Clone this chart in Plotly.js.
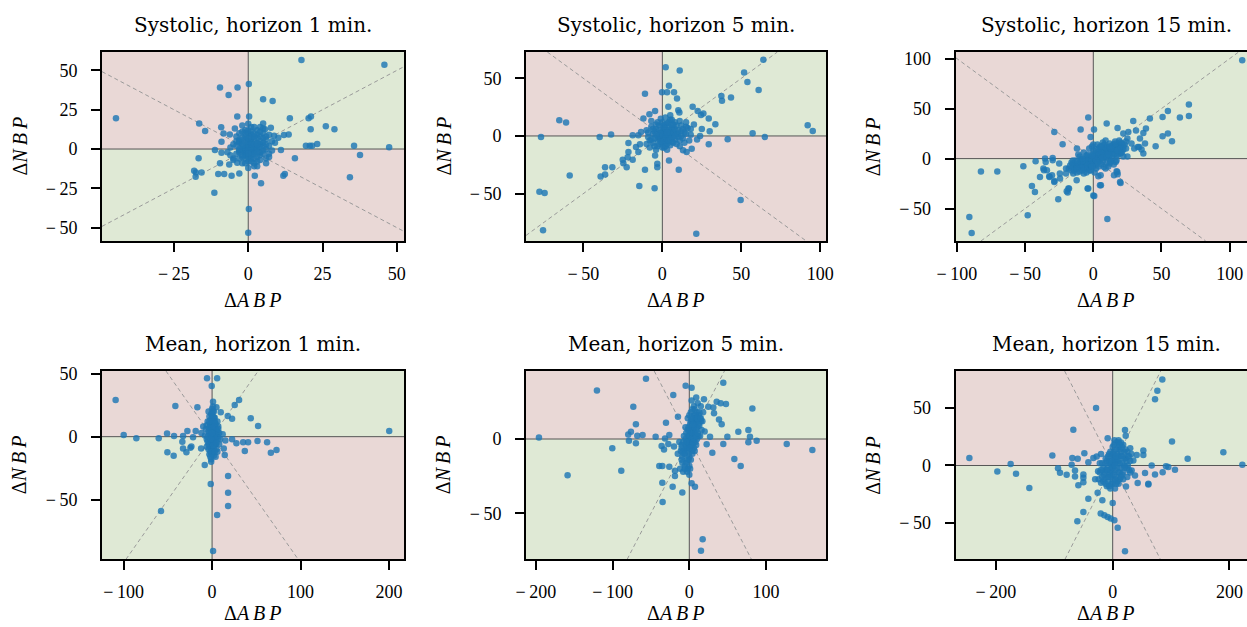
<!DOCTYPE html>
<html><head><meta charset="utf-8">
<script src="https://cdn.plot.ly/plotly-3.0.1.min.js"></script>
<style>html,body{margin:0;padding:0;overflow:hidden;background:#fff}</style>
</head><body><div id="chart" style="width:1247px;height:627px"></div>
<script>
const titles = ["Systolic, horizon 1 min.", "Systolic, horizon 5 min.", "Systolic, horizon 15 min.",
                "Mean, horizon 1 min.", "Mean, horizon 5 min.", "Mean, horizon 15 min."];
const xLabel = "Δ<i>A\u2009B\u2009P</i>";
const yLabel = "Δ<i>N\u2009B\u2009P</i>";

// [ΔABP, ΔNBP] pairs (outliers, then the dense core)
const sys1 = [[-44.5,19.5],[17.9,56.6],[45.8,53.6],[-9.5,39.2],[-3.6,39.2],[-6.6,34.4],[0.2,41.3],[5.0,31.6],[8.2,30.5],[-3.7,20.6],[0.3,20.6],[-16.5,16.3],[-14.5,11.5],[14.0,19.5],[20.3,19.5],[21.1,20.6],[21.0,12.5],[26.1,14.4],[29.0,12.5],[12.0,8.9],[13.6,9.3],[19.4,2.1],[20.7,2.1],[21.5,2.1],[23.2,3.2],[35.6,2.1],[47.4,1.1],[37.6,-3.8],[15.7,-5.9],[11.0,-0.6],[34.2,-18.0],[11.8,-17.0],[12.3,-15.9],[4.3,-21.8],[2.2,-17],[0.2,-38.2],[0,-53.2],[-11.4,-27.8],[-5.6,-17],[-3.0,-15.5],[-10.1,-15.9],[-8.1,-15.9],[-15.7,-15],[-17.6,-15],[-18.2,-13.8],[-17.7,-17.6],[-16.7,-5.9],[-9.5,-9.1],[-6.4,-9.8],[-3.7,-8.7],[-11.2,-0.6],[-9,-2.3],[-9.1,13.8],[-8.3,9.8],[-6.2,9.3],[-9,4.7],[-4.5,13.1],[7.6,13.6],[8.7,8.5],[10.1,7.2],[5.6,12.5],[5.0,16.3],
  [-4,2],[-3,5],[-2,-1],[-1,8],[0,3],[1,-4],[2,6],[3,1],[4,-2],[5,4],[6,0],[-5,-6],[-3,10],[-1,12],[1,-8],[3,9],[5,7],[7,2],[-4,-3],[-2,-9],[0,-5],[2,14],[4,11],[6,-6],[8,5],[-3,4],[-1,-2],[1,1],[3,-11],[5,13],[-2,7],[0,16],[2,-1],[4,3],[-6,1],[-5,-7],[7,-3],[9,4],[-1,0],[1,9],[0,-12],[2,2],[-3,6],[3,-5],[-2,11],[4,8],[6,-9],[-4,5],[1,3],[-1,-3],[0,10],[2,-2],[3,4],[-7,-2],[8,-1],[5,2],[-2,15],[1,-6],[4,-4],[-1,6],[0,0],[1,5],[-2,3],[2,-6],[3,7],[-1,-6],[6,3],[-3,-1],[7,9],[-6,-4],
  [-2,0],[-1,1],[0,2],[1,0],[2,1],[3,2],[-1,4],[0,5],[1,4],[2,3],[3,0],[4,1],[-2,2],[0,-1],[1,-2],[2,-3],[-1,-4],[0,-3],[3,-2],[4,5],[5,-1],[-3,-2],[-2,-4],[1,7],[2,8],[0,7],[-1,10],[3,12],[1,11],[4,-7],[2,-9],[-3,-6],[5,10],[6,6],[7,-5],[-4,8],[3,3],[-2,-5],[0,12],[1,14],[2,-11],[5,-3],[6,8],[-5,3],[-3,0],[0,-8],[2,10],[4,14],[-1,-9],[3,-8]];
const sys5 = [[2.1,59.7],[11.0,56.8],[64.0,66.1],[51.8,55.1],[53.9,46.9],[61.0,39.9],[43.5,33.5],[37.4,34.7],[37.8,30.6],[4.2,43.7],[-0.2,37.9],[3.0,37.9],[7.4,37.9],[9.3,32.6],[10.1,22.4],[10.8,20.4],[3.8,25.3],[-11.0,36.7],[19.2,25.3],[22.4,21.6],[24.5,18.1],[26,19.5],[29.4,15.2],[33.6,10.2],[-12,15.2],[-8.2,18.9],[-4.6,21.6],[-65.3,13.7],[-61,11.7],[-76.9,-0.9],[-39.7,-0.9],[-32.5,1.2],[92.1,9.3],[95.3,4.4],[57.2,2.3],[64.9,-0.9],[41.4,-2.9],[29.4,-7.3],[23.9,0],[18,1],[10.4,-29.4],[4.2,-21.3],[-4.6,-16.9],[-3.2,-24.2],[-3.2,-27.1],[-4.9,-45.5],[-11,-29.4],[-14.6,-43.4],[49.6,-55.7],[21.5,-84.8],[-75.6,-81.9],[-77.9,-48.4],[-74.6,-49.5],[-58.7,-34.4],[-39.1,-35.3],[-36.3,-33.5],[-36.3,-27.1],[-31.7,-27.1],[-24.7,-23.6],[-22.6,-27.1],[-25.1,-20.7],[-22,-18.4],[-18.8,-20.7],[-21.5,-14],[-21.5,-6.1],[-16.7,-9.6],[-15.2,-14],[-14.2,-7.3],[-18.8,0.6],[-15.2,0.6],[-13.5,3.5],[13.1,-12.5],[15.4,-14],[18.6,-11.1],[20,10],[25,6],[15,8],[30,4],[22,-3],[-8,-10],[-10,5],
  [-8,-4],[-6,2],[-4,6],[-2,-2],[0,4],[2,-6],[4,8],[6,2],[8,-3],[10,5],[12,9],[14,3],[-5,-9],[-3,12],[-1,15],[1,-10],[3,11],[5,14],[7,6],[9,-7],[11,13],[13,-2],[16,7],[-7,8],[-9,-1],[0,-3],[2,1],[4,-1],[1,6],[-1,3],[3,-4],[5,-8],[7,10],[-3,0],[-5,4],[0,9],[2,16],[6,-5],[8,12],[10,-1],[-2,-7],[-4,-12],[12,4],[15,12],[18,6],[-6,-6],[1,2],[3,5],[-1,-1],[0,0],[4,3],[6,7],[-2,5],[2,-2],[9,2],[-10,-7],[17,-4],[11,-9],[-7,13],[5,18],
  [0,1],[1,-1],[2,3],[3,1],[-1,2],[-2,0],[4,5],[5,0],[6,-2],[7,3],[-3,-3],[-4,1],[0,-6],[1,8],[2,10],[3,-7],[4,12],[-2,9],[5,3],[8,6],[9,9],[10,2],[11,-4],[-5,-2],[-6,6],[-3,-9],[0,12],[1,-4],[3,3],[6,10],[12,0],[13,6],[-1,-5],[2,-9],[4,-4],[7,-6],[-7,-3],[8,0],[0,-10],[-4,10],[14,-6],[15,2],[-9,3],[6,14],[3,-12]];
const sys15 = [[109.2,98.3],[70.1,54],[70.1,42.7],[63.5,41],[50.8,41.7],[54.7,47.7],[41.5,40],[29.3,37.7],[50.8,22.3],[54.7,25],[57.7,17.3],[45.7,12.3],[36.7,5],[35.4,9],[33.7,11.7],[38.6,30],[36.7,25.7],[-3.7,41],[0.5,29],[9.8,35],[17.8,30.7],[-9.3,29],[-28.6,26.7],[-22.5,14.3],[-2,21.7],[-82.4,-13],[-70.4,-13],[-51.3,-7.7],[-42.3,-2.7],[-34.9,-3.3],[-29.8,0.7],[-45,-27.3],[-42.8,-33.3],[-39.1,-18.3],[-36.2,-11.7],[-32.3,-17.7],[-30.3,-16.7],[-25.7,-40.7],[-18.8,-34],[-17.8,-30],[-28.6,-23.3],[-24.4,-20],[-48.1,-56.7],[-90.9,-58.3],[-89.2,-74.3],[0.7,-37.3],[-4.2,-30],[5.6,-26.7],[10.3,-60.3],[20,-24.3],[17.1,-12.7],[17.8,-15.7],[3.7,-17.7],[25,20],[28,15],[22,25],[30,10],[20,5],[-15,-5],[-20,-10],[-12,10],[12,-5],[25,2],[-25,-5],
  [25.7,26.6],[34.2,20],[32.6,11.7],[31.3,28],[37.9,15],[-35.4,0],[-34,-11.7],[-36.6,-10],[-29.8,-1.7],[-32.1,-18.3],[-28.5,-22.3],[-18.3,-30],[-19.5,-32.7],[-3.7,-30],[0,-37],[4.9,-26.7],[19.6,-23.4],[17.6,-13.3],[15.2,-16.7],[5.4,-16.7],[7.8,-8.3],[16.4,-3.3],[-14.7,-15],[-12.2,-21.7],[-24.5,-15],
  [-20,-15],[-18,-10],[-16,-12],[-14,-6],[-12,-9],[-10,-4],[-8,-7],[-6,-2],[-4,-5],[-2,0],[0,-3],[2,2],[4,-1],[6,4],[8,1],[10,6],[12,3],[14,8],[16,5],[18,10],[20,7],[22,12],[-15,-2],[-10,2],[-5,3],[0,5],[5,8],[10,12],[15,14],[20,16],[-12,-14],[-8,-12],[-3,-9],[2,-6],[7,-3],[12,-1],[17,2],[-6,-8],[-1,-4],[4,3],[9,7],[14,11],[19,13],[24,17],[-9,-1],[-3,1],[3,0],[8,4],[13,6],[-7,-4],[1,1],[6,9],[11,9],[16,12],[-2,-2],[5,5],[0,0],[3,6],[-4,-1],[9,2],[-11,-6],[7,8],[15,9],[-17,-7],[21,15],[2,9],[-5,-10],
  [-1,-1],[1,0],[2,4],[3,2],[4,1],[5,3],[6,2],[7,5],[8,6],[9,4],[10,3],[11,7],[12,8],[-3,-2],[-5,-6],[-7,-6],[-9,-8],[-10,-7],[-6,-5],[0,2],[1,3],[2,-2],[4,6],[6,7],[8,9],[10,10],[12,11],[14,13],[-8,-3],[-4,-7],[-2,-6],[0,-8],[5,-2],[10,1],[15,4],[13,10],[17,8],[18,14],[20,11],[-13,-10],[-15,-9],[-12,-3],[3,-4],[7,1],[-1,3],[-6,0],[9,11],[11,4],[16,15],[22,9],
  [-14,-12],[-12,-6],[-10,-13],[-8,0],[-6,-10],[-4,4],[-2,-12],[0,8],[2,-10],[4,10],[6,-6],[8,14],[10,-4],[12,15],[14,0],[16,17],[18,4],[20,10],[22,2],[-13,-2],[-9,-9],[-5,-14],[-1,12],[3,14],[7,16],[11,-8],[15,-6],[19,18],[23,14],[-11,4],[-7,6],[-3,10],[1,-14],[5,12],[9,18],[13,-3],[17,-2],[21,6],[-16,-4],[-7,-15],[4,-8],[9,-10],[24,10],[-3,-12],[0,14],[6,12],[12,12],[-12,-10],[18,8],[-1,-8]];
const mean1 = [[-109,29.1],[-99.9,1.3],[-85.6,-1.3],[-60.3,-1.3],[-50.9,2.6],[-43,0.5],[-41.5,24.3],[-50.5,-12.4],[-43.4,-15.1],[-32.8,0.5],[-27.9,4.5],[-18.5,4.5],[-33.6,-4],[-32.8,-9.3],[-29,-12.4],[-24.5,-8.7],[-23.4,-7.9],[-21.5,-0.5],[-16.6,23.3],[-12.4,-9.3],[-8.3,-22.5],[-5.7,46.3],[5.7,46.3],[-0.4,40.2],[1.1,27.8],[4.9,23.3],[9.8,19.3],[25.6,25.1],[30.5,29.1],[17.7,16.4],[22.6,14.3],[43.7,14.6],[52,8.5],[200.2,4.5],[22.6,-2.1],[27.5,-5.3],[35.1,-4.5],[40.7,-4.5],[37,-11.4],[51.3,-3.4],[62.2,-4.5],[66.4,-12.7],[72.8,-10.6],[13.2,-9.3],[14.3,-14.6],[18.1,-31.2],[18.1,-44.4],[18.1,-55],[5.7,-62.2],[-1.5,-37.6],[1.1,-90.7],[-57.7,-59],[12,2],[15,-3],[-12,3],[-10,8],
  [-6,-2],[-4,4],[-2,-8],[0,10],[2,-4],[4,6],[6,0],[8,-6],[-5,12],[-3,-14],[-1,18],[1,-12],[3,15],[5,-10],[7,8],[-7,6],[-2,2],[0,-2],[2,3],[-1,-5],[1,7],[3,-1],[-4,-10],[0,22],[2,20],[-3,16],[4,-16],[-1,-18],[1,0],[6,12],[-5,-4],[5,2],[-2,8],[0,-7],[2,11],[-6,9],[8,3],[-1,1],[1,-2],[0,4],[3,5],[-3,-1],[9,-2],[-8,1],[0,14],[-2,-12],[4,-6],[1,24],[-1,-20],[2,-15],[6,-12],[-4,20],[7,-1],[3,9],
  [0,1],[1,3],[2,-1],[-1,5],[0,8],[1,-3],[2,6],[3,2],[-2,-3],[-3,3],[0,-10],[1,12],[2,15],[-1,14],[3,-6],[4,10],[-2,10],[0,-14],[1,16],[-3,7],[4,-2],[5,5],[-4,-6],[2,-9],[-1,-12],[0,18],[3,12],[6,4],[-5,0],[1,-7],[0,3],[-1,-2],[2,8],[3,-12],[-2,-16],[1,20],[5,-5],[-3,12],[7,6],[-6,-8]];
const mean5 = [[-196,1.1],[-158.7,-24.4],[-120.4,32.7],[-100.4,-6.3],[-88.7,-21.3],[-56.5,40.6],[-73,21.7],[-69.6,9.9],[-76.1,4.9],[-79.6,3.1],[-78.7,-1.1],[-69.6,-2.9],[-67.8,2.2],[-60.9,2.7],[-43.9,1.6],[-30.4,11],[-31.7,0.4],[-27.4,-3.4],[-26.1,2.7],[-36.1,-4.7],[-33,-7],[-39.1,-18.2],[-35.2,-18.2],[-35.2,-29.4],[-34.8,-42.4],[-26.1,-18.6],[-18.7,-21.3],[-18.7,-24.9],[-21.7,-32.1],[-9.1,-36.1],[-20.9,29.6],[-14.8,15],[-4.8,35.9],[3,34.5],[19.1,26.7],[44.3,37.9],[35.7,25.1],[40.9,24],[47.8,23.5],[24.8,21.7],[31.3,21.3],[32.2,17.3],[38.7,13.2],[42.2,9.9],[82.2,20.6],[63.9,4.9],[77,6.1],[79.1,1.6],[77,-2.2],[87.8,-1.1],[49.6,1.6],[44.3,-3.4],[58.7,-13.5],[67,-18.2],[30,-9.2],[27,1.6],[22.6,-3.6],[127,-3.4],[160.4,-7.4],[3,-29.8],[7.4,-32.1],[17.4,-67.5],[15.2,-75.3],[-15,-10],[-20,-5],[20,5],[15,12],
  [-12,-20],[-10,-14],[-8,-22],[-6,-10],[-4,-16],[-2,-6],[0,-12],[2,-2],[4,-8],[6,4],[8,-2],[10,8],[12,2],[14,14],[16,6],[-10,-4],[-5,0],[0,6],[5,12],[10,18],[15,22],[-8,-8],[-3,-2],[2,4],[7,10],[12,16],[-6,-18],[-1,-14],[4,-10],[9,-4],[14,2],[-4,4],[1,10],[6,16],[11,24],[3,26],[-2,14],[-7,2],[0,0],[3,-4],[-1,2],[5,6],[8,12],[-3,-8],[1,-6],[-9,-12],[7,20],[2,18],[-5,8],[10,0],[13,9],[-11,-8],[4,1],[6,-6],[-2,-20],[0,-24],[9,28],[17,12],[-13,-2],[18,18],
  [0,2],[2,6],[4,4],[-2,-2],[-4,-6],[6,8],[8,4],[1,-4],[3,0],[-1,-10],[-3,-14],[5,-2],[7,14],[9,6],[11,12],[13,18],[-5,-4],[-7,-10],[-9,-16],[-6,-20],[0,16],[2,12],[4,20],[6,22],[8,16],[10,14],[12,10],[-2,6],[-4,-2],[0,-18],[2,-14],[4,-4],[6,0],[-8,-2],[-1,8],[3,14],[5,10],[1,-20],[-3,-22],[7,-8],[9,2],[11,4],[15,14],[-10,-6],[0,-6]];
const mean15 = [[-245.4,6.6],[-197.5,-5.2],[-174.7,1.4],[-165.5,-7.2],[-142.7,-19.7],[-103.3,8.7],[-93.6,-2.3],[-90.2,-6.4],[-78.8,-8.1],[-69.1,6.6],[-70.2,0.6],[-67.4,31.2],[-59.9,5.8],[-64.5,-4.3],[-64.5,-9.5],[-58.8,-17.3],[-50.2,-7.8],[-50.2,-10.7],[-50.2,-14.5],[-48.5,10.7],[-41.7,2.9],[-28.5,50],[-33.1,6.6],[-27.4,7.8],[-41.7,-28.9],[-25.7,-23.7],[-17.7,-30.3],[-50.2,-40.5],[-60.5,-48.6],[-20.5,-41.9],[-14.3,-43.4],[-8.6,-44.8],[-3.4,-46.2],[2.9,-47.7],[8.6,-54.3],[0,-32.7],[21.1,-74.6],[85,74.9],[76.5,65],[72.5,57.8],[21.1,30.9],[22.3,26],[-8.6,23.7],[101.6,20.8],[189.5,11.6],[222,0.6],[128.4,5.8],[52.5,9.2],[41.1,9.2],[52.5,13],[35.4,4.3],[32.5,-4.3],[38.2,-8.7],[42.8,-15.3],[55.4,-6.6],[61.1,-15.9],[61.1,-16.5],[66.8,0],[72.5,-7.8],[85.6,-5.8],[91.3,-0.6],[95.3,-1.4],[106.7,-3.8],[22.8,-18.2],[-30,-12],[-25,-5],[30,15],[25,-10],[-20,10],[10,22],
  [-20,-15],[-15,-8],[-10,-18],[-5,-4],[0,-12],[5,2],[10,-6],[15,8],[20,0],[25,12],[30,4],[-18,2],[-12,6],[-6,10],[0,16],[6,20],[12,14],[18,18],[-22,-6],[-8,-10],[-2,-16],[4,-20],[8,-14],[14,-2],[22,6],[28,-4],[-14,-12],[2,6],[8,10],[-4,2],[0,0],[4,-4],[12,2],[16,-8],[-10,4],[-16,-2],[10,16],[20,12],[24,-2],[-6,-8],[6,-10],[2,12],[-2,8],[14,20],[32,10],[-24,-12],[18,-12],[-8,0],[0,-6],[6,4],[10,8],[-12,-4],[26,8],[-4,-20],[3,22],
  [-2,-2],[2,2],[4,6],[-4,-6],[8,-2],[10,4],[12,-6],[16,2],[-6,4],[-10,-4],[-14,-6],[-18,-10],[0,10],[6,14],[14,12],[20,6],[24,4],[-8,-14],[0,-16],[6,-16],[12,-12],[18,-6],[-12,2],[-4,12],[2,18],[10,20],[16,16],[22,14],[26,0],[-20,-4],[-16,-14],[-6,-18],[4,-12],[8,6],[14,-10],[20,-2],[-2,4],[0,-2],[4,0],[-8,8],[28,8],[30,-6],[-22,2],[-12,-16],[10,-16],[6,8],[-4,-10],[2,-8],[16,8],[12,18]];

const panels = [sys1, sys5, sys15, mean1, mean5, mean15];

const xTickVals = [[-25,0,25,50],[-50,0,50,100],[-100,-50,0,50,100],[-100,0,100,200],[-200,-100,0,100],[-200,0,200]];
const yTickVals = [[-50,-25,0,25,50],[-50,0,50],[-50,0,50,100],[-50,0,50],[-50,0],[-50,0,50]];

// axis limits
const xLims = [[-49.2,52.4],[-86.4,103.7],[-100.9,112.7],[-124.4,216.9],[-212.9,178.2],[-268.8,230]];
const yLims = [[-58.5,61.7],[-91.2,72.9],[-82.4,106.6],[-97.3,52.1],[-81,45.8],[-81.7,82.3]];

// layout geometry in pixels
const W = 1247, H = 627;
const colL = [102, 526, 955.7], colR = [404, 826, 1247], colCenter = [253, 676, 1106];
const rowT = [52, 371], rowB = [241, 559.3], xTitleY = [300, 613];

const GREEN = '#dfe9d5', PINK = '#e9d8d6';
const tickLabel = v => v < 0 ? '\u2212\u2009' + Math.abs(v) : String(v);

const data = [], shapes = [], annotations = [];
const layout = {
  width: W, height: H, margin: {l:0, r:0, t:0, b:0},
  paper_bgcolor: '#fff', plot_bgcolor: 'rgba(0,0,0,0)',
  showlegend: false, shapes, annotations,
  font: {family: 'Liberation Serif', color: '#000'}
};

panels.forEach((pts, i) => {
  const r = Math.floor(i / 3), c = i % 3;
  const ax = i === 0 ? '' : String(i + 1);
  const xr = 'x' + ax, yr = 'y' + ax;
  data.push({
    type: 'scatter', mode: 'markers', xaxis: xr, yaxis: yr,
    x: pts.map(p => p[0]), y: pts.map(p => p[1]),
    marker: {color: '#1f77b4', size: 6.5, opacity: 0.82, line: {width: 0}},
    hoverinfo: 'x+y'
  });
  const [x0, x1] = xLims[i], [y0, y1] = yLims[i];
  const common = {
    showgrid: false, zeroline: false, showline: true, linewidth: 2, linecolor: '#000',
    ticks: 'outside', ticklen: 9, tickwidth: 2, tickcolor: '#000',
    tickfont: {family: 'Liberation Serif', size: 18, color: '#000'},
    fixedrange: true
  };
  layout['xaxis' + ax] = Object.assign({}, common, {
    domain: [colL[c] / W, colR[c] / W], range: [x0, x1], anchor: yr,
    tickmode: 'array', tickvals: xTickVals[i], ticktext: xTickVals[i].map(tickLabel),
    mirror: true, ticklabelstandoff: 6
  });
  layout['yaxis' + ax] = Object.assign({}, common, {
    domain: [1 - rowB[r] / H, 1 - rowT[r] / H], range: [y0, y1], anchor: xr,
    tickmode: 'array', tickvals: yTickVals[i], ticktext: yTickVals[i].map(tickLabel),
    mirror: c < 2, ticklabelstandoff: 10
  });
  const rect = (a, b, cc, d, col) => shapes.push({type: 'rect', xref: xr, yref: yr, x0: a, x1: b, y0: cc, y1: d,
    fillcolor: col, line: {width: 0}, layer: 'below'});
  rect(0, x1, 0, y1, GREEN);
  rect(x0, 0, y0, 0, GREEN);
  rect(x0, 0, 0, y1, PINK);
  rect(0, x1, y0, 0, PINK);
  const ln = (a, b, cc, d, col, dash) => shapes.push({type: 'line', xref: xr, yref: yr, x0: a, x1: b, y0: cc, y1: d,
    line: {color: col, width: 1, dash: dash}, layer: 'below'});
  // diagonals y = x and y = -x clipped to the axes box
  const pa = Math.max(x0, y0), pb = Math.min(x1, y1);
  ln(pa, pb, pa, pb, '#9a9a9a', '4px,3px');
  const na = Math.max(x0, -y1), nb = Math.min(x1, -y0);
  ln(na, nb, -na, -nb, '#9a9a9a', '4px,3px');
  ln(0, 0, y0, y1, '#555', 'solid');
  ln(x0, x1, 0, 0, '#555', 'solid');

  annotations.push({xref: 'paper', yref: 'paper', x: colCenter[c] / W, y: 1 - (rowT[r] - 27) / H,
    text: titles[i], showarrow: false, xanchor: 'center', yanchor: 'middle',
    font: {family: 'DejaVu Serif', size: 20, color: '#000'}});
  annotations.push({xref: 'paper', yref: 'paper', x: colCenter[c] / W, y: 1 - xTitleY[r] / H,
    text: xLabel, showarrow: false, xanchor: 'center', yanchor: 'middle',
    font: {family: 'Liberation Serif', size: 20, color: '#000'}});
  annotations.push({xref: 'paper', yref: 'paper', x: (colL[c] - 83) / W, y: 1 - (rowT[r] + rowB[r]) / 2 / H,
    text: yLabel, showarrow: false, xanchor: 'center', yanchor: 'middle', textangle: -90,
    font: {family: 'Liberation Serif', size: 20, color: '#000'}});
});

Plotly.newPlot('chart', data, layout, {displayModeBar: false, staticPlot: true});
</script></body></html>
